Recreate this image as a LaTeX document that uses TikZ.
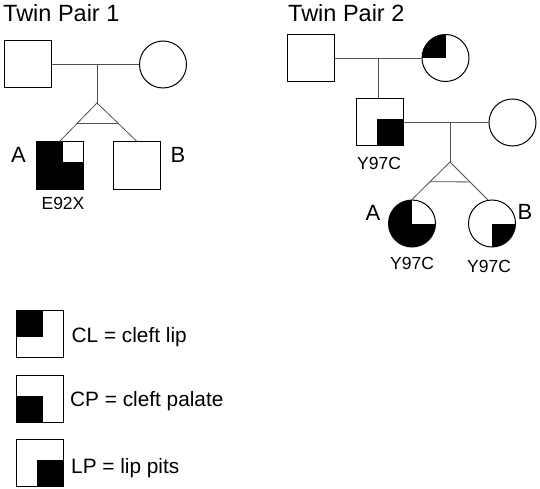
\documentclass[tikz,border=0pt]{standalone}
\usepackage{fontspec}
\setmainfont{Liberation Sans}
\usetikzlibrary{calc}
\definecolor{linegray}{HTML}{505050}
\tikzset{
  sym/.style={draw=black, line width=1pt, inner sep=0pt, fill=white, minimum size=47pt},
  sq/.style={sym, rectangle},
  ci/.style={sym, circle},
  conn/.style={draw=linegray, line width=0.8pt},
  title/.style={font=\fontsize{23.5}{28}\selectfont, anchor=base west, inner sep=0pt},
  twinlab/.style={font=\fontsize{22}{26}\selectfont, inner sep=0pt},
  mutlab/.style={font=\fontsize{17.5}{21}\selectfont, inner sep=0pt},
  legtext/.style={font=\fontsize{20.8}{25}\selectfont, anchor=base west, inner sep=0pt},
  % square patterns
  sqCL/.style={path picture={\fill[black] (path picture bounding box.north west) rectangle ([shift={(3pt,-3pt)}]path picture bounding box.center);}},
  sqCP/.style={path picture={\fill[black] (path picture bounding box.south west) rectangle ([shift={(3pt,3pt)}]path picture bounding box.center);}},
  sqLP/.style={path picture={\fill[black] (path picture bounding box.south east) rectangle ([shift={(-3pt,3pt)}]path picture bounding box.center);}},
  sqAll/.style={path picture={\fill[black] (path picture bounding box.south west) rectangle (path picture bounding box.north east);
     \fill[white] (path picture bounding box.north east) rectangle ([shift={(3.5pt,3.5pt)}]path picture bounding box.center);}},
  % circle patterns
  ciCL/.style={path picture={\fill[black] (path picture bounding box.north west) rectangle (path picture bounding box.center);}},
  ciLP/.style={path picture={\fill[black] (path picture bounding box.south east) rectangle (path picture bounding box.center);}},
  ciAll/.style={path picture={\fill[black] (path picture bounding box.south west) rectangle (path picture bounding box.north east);
     \fill[white] (path picture bounding box.north east) rectangle (path picture bounding box.center);}},
}
\begin{document}
\begin{tikzpicture}[x=1pt, y=-1pt]
\useasboundingbox (0,0) rectangle (540,489);

% ---------- Twin Pair 1 ----------
\node[title] (title1) at (3,22) {Twin Pair 1};
\node[sq] (f1) at (28,64.5) {};
\node[ci] (m1) at (163,64.5) {};
\coordinate (mid1) at (97,64.5);
\coordinate (apex1) at (97,103);
\node[sq, sqAll] (a1) at (59.5,165.5) {};
\node[sq] (b1) at (137,165.5) {};
\draw[conn] (f1.east) -- (m1.west);
\draw[conn] (mid1) -- (apex1);
\draw[conn] (a1.north) -- (apex1) -- (b1.north);
\draw[conn] ($(apex1)!0.54!(a1.north)$) -- ($(apex1)!0.54!(b1.north)$);
\node[twinlab] (la1) at (18.5,155) {A};
\node[twinlab] (lb1) at (178,155) {B};
\node[mutlab] (ma1) at (63,203.5) {E92X};

% ---------- Twin Pair 2 ----------
\node[title] (title2) at (288,22) {Twin Pair 2};
\node[sq] (gf) at (311,58) {};
\node[ci, ciCL] (gm) at (445.5,58) {};
\coordinate (mid2) at (378,58);
\node[sq, sqLP] (son) at (379.5,122.5) {};
\node[ci] (wife) at (512.5,122.5) {};
\coordinate (mid3) at (450,122.5);
\coordinate (apex2) at (450,162);
\node[ci, ciAll] (dA) at (412,223.5) {};
\node[ci, ciLP] (dB) at (492,223.5) {};
\coordinate (dBtop) at (dB.100);
\draw[conn] (gf.east) -- (gm.west);
\draw[conn] (mid2) -- (mid2 |- son.north);
\draw[conn] (son.east) -- (wife.west);
\draw[conn] (mid3) -- (apex2);
\draw[conn] (dA.north) -- (apex2) -- (dBtop);
\draw[conn] ($(apex2)!0.526!(dA.north)$) -- ($(apex2)!0.526!(dBtop)$);
\node[mutlab] (mson) at (379,163) {Y97C};
\node[twinlab] (la2) at (373,213) {A};
\node[twinlab] (lb2) at (525,212) {B};
\node[mutlab] (mA) at (412,263.5) {Y97C};
\node[mutlab] (mB) at (489,266.5) {Y97C};

% ---------- Legend ----------
\node[sq, sqCL] (kCL) at (39.5,334) {};
\node[sq, sqCP] (kCP) at (39.5,398.5) {};
\node[sq, sqLP] (kLP) at (39.5,462.5) {};
\node[legtext] (tCL) at (71.5,342) {CL = cleft lip};
\node[legtext] (tCP) at (70,406.7) {CP = cleft palate};
\node[legtext] (tLP) at (71,473.3) {LP = lip pits};
\end{tikzpicture}
\end{document}
